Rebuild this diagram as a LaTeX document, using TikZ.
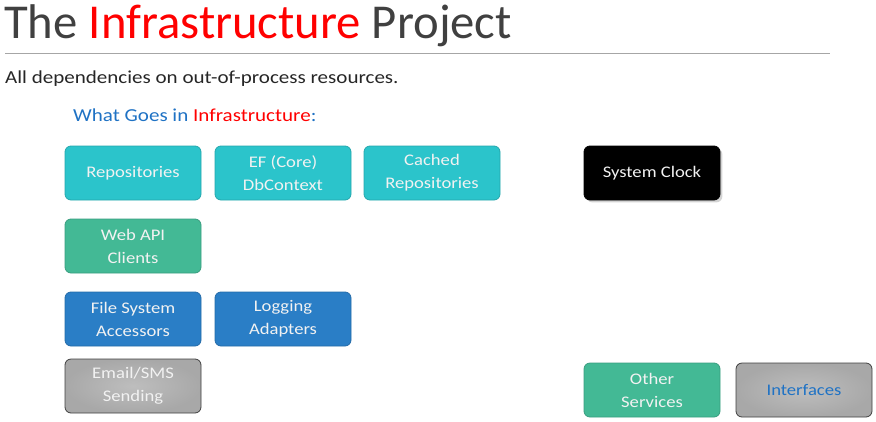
\documentclass[tikz,border=0pt]{standalone}
\usepackage{fontspec}
\setmainfont{Carlito}
\newfontfamily\widefont{Carlito}[FakeStretch=1.15]
\usetikzlibrary{shadows}
\definecolor{titlegray}{HTML}{404040}
\definecolor{textgray}{HTML}{262626}
\definecolor{hdblue}{HTML}{1F72C4}
\definecolor{cyanbox}{HTML}{2BC4CB}
\definecolor{greenbox}{HTML}{43B995}
\definecolor{bluebox}{HTML}{2A7EC6}
\definecolor{graybox}{HTML}{A8A8A8}
\definecolor{boxtext}{HTML}{F2F2F2}

\begin{document}
\begin{tikzpicture}[x=1pt, y=-1pt,
	box/.style={rounded corners=6pt, minimum width=136pt, minimum height=54pt,
		inner sep=0pt, align=center, text=boxtext, line width=.8pt,
		font=\widefont\fontsize{16.2}{23}\selectfont},
	cyanb/.style={box, fill=cyanbox, draw=cyanbox!85!black},
	greenb/.style={box, fill=greenbox, draw=greenbox!85!black},
	blueb/.style={box, fill=bluebox, draw=bluebox!85!black},
	grayb/.style={box, inner color=graybox!75!white, outer color=graybox, draw=black!75}]
	\useasboundingbox (0,0) rectangle (876,421);

	\node[anchor=base west, inner sep=0pt, text=titlegray, font=\fontsize{48.7}{58}\selectfont] (title) at (4,38)
		{The \textcolor{red}{Infrastructure} Project};	% heading
	\draw[gray!70, line width=1pt] (5,53) -- (830,53);
	\node[anchor=base west, inner sep=0pt, text=textgray, font=\widefont\fontsize{18.3}{22}\selectfont] (sub) at (5,83)
		{All dependencies on out-of-process resources.};
	\node[anchor=base west, inner sep=0pt, text=hdblue, font=\widefont\fontsize{18.3}{22}\selectfont] (what) at (73,121)
		{What Goes in \textcolor{red}{Infrastructure}:};

	\node[cyanb] (repo) at (133,173) {Repositories};	% Row 1
	\node[cyanb] (ef) at (283,173) {EF (Core)\\DbContext};
	\node[cyanb] (cached) at (432,173) {Cached\\Repositories};
	\node[box, fill=black, draw=black, text=boxtext, drop shadow={opacity=.35}] (clock) at (652,173) {System Clock};

	\node[greenb] (webapi) at (133,246) {Web API\\Clients};	% Row 2

	\node[blueb] (files) at (133,319) {File System\\Accessors};	% Row 3
	\node[blueb] (logging) at (283,319) {Logging\\Adapters};

	\node[grayb] (email) at (133,386) {Email/SMS\\Sending};	% Row 4
	\node[greenb] (other) at (652,390) {Other\\Services};
	\node[grayb, text=hdblue] (iface) at (804,390) {Interfaces};
\end{tikzpicture}
\end{document}
